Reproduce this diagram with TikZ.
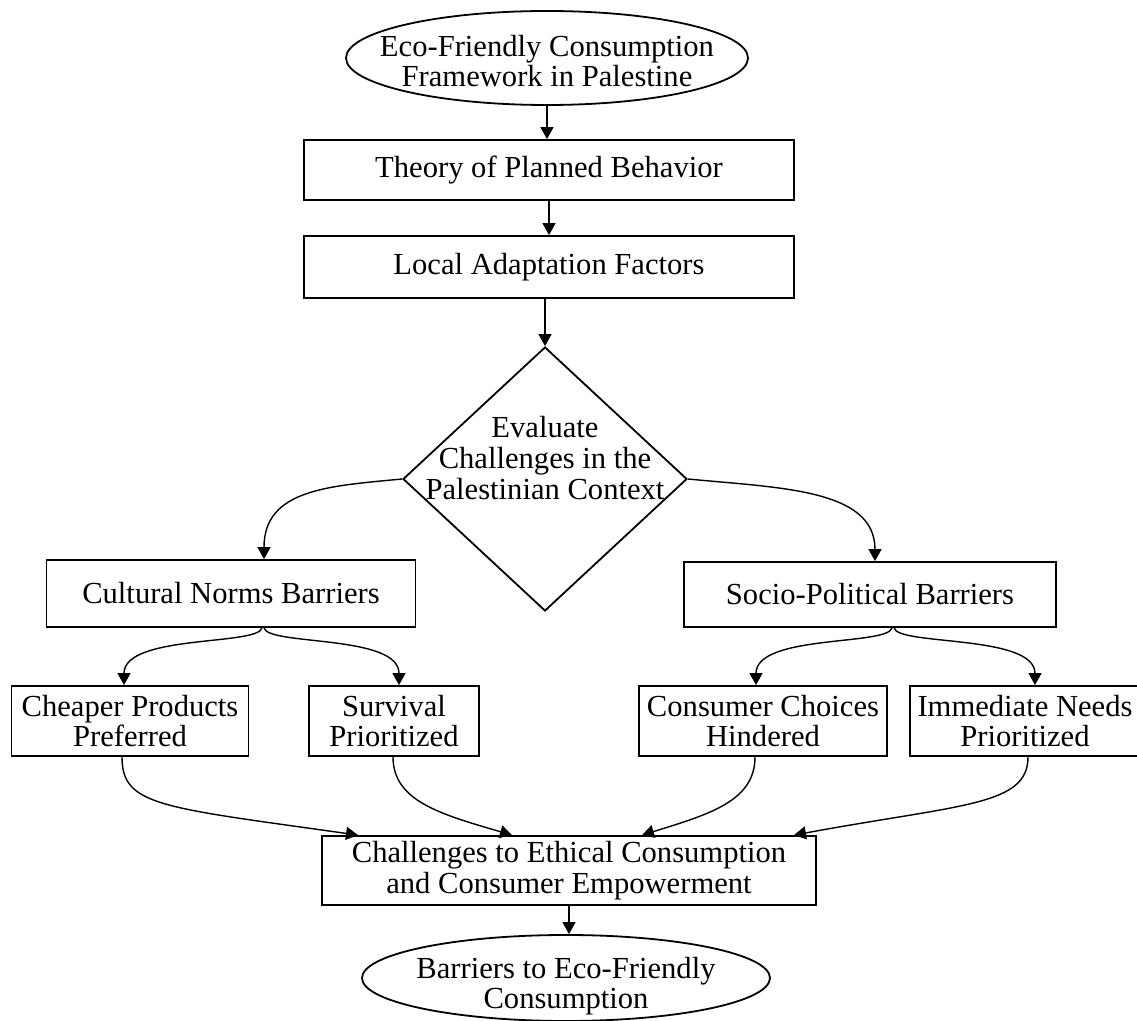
\documentclass[tikz,border=0pt]{standalone}
\usepackage{fontspec}
\setmainfont{Liberation Serif}
\usetikzlibrary{shapes.geometric,arrows.meta,calc}
\begin{document}
\begin{tikzpicture}[x=0.5pt,y=-0.5pt,
    caption/.style={align=center,font=\fontsize{15.3}{15.3}\selectfont},
    box/.style={draw,line width=0.9pt,inner sep=0pt,caption},
    oval/.style={draw,ellipse,line width=0.9pt,inner sep=0pt},
    decision/.style={draw,diamond,line width=0.9pt,inner sep=0pt,minimum width=142pt,minimum height=132pt},
    link/.style={line width=0.7pt,-{Triangle[length=6pt,width=6.5pt]}}]
  \useasboundingbox (0,0) rectangle (1137,1021);
  \node[oval,minimum width=201pt,minimum height=47pt,label={[caption,yshift=-1.5pt]center:Eco-Friendly Consumption\\Framework in Palestine}] (frame) at (547,58) {};
  \node[box,minimum width=245pt,minimum height=30pt] (tpb) at (549,170) {Theory of Planned Behavior};
  \node[box,minimum width=245pt,minimum height=31pt] (local) at (549,267) {Local Adaptation Factors};
  \node[decision,label={[caption,yshift=10.5pt]center:Evaluate\\Challenges in the\\Palestinian Context}] (eval) at (545,479) {};
  \node[box,minimum width=184.5pt,minimum height=33.5pt] (cult) at (231,593.5) {Cultural Norms Barriers};
  \node[box,minimum width=186pt,minimum height=32.5pt] (socio) at (870,594.5) {Socio-Political Barriers};
  \node[box,minimum width=118.5pt,minimum height=35pt] (cheap) at (130,721) {Cheaper Products\\Preferred};
  \node[box,minimum width=85pt,minimum height=35pt] (surv) at (394,721) {Survival\\Prioritized};
  \node[box,minimum width=124pt,minimum height=35pt] (cons) at (763,721) {Consumer Choices\\Hindered};
  \node[box,minimum width=115pt,minimum height=35pt] (imm) at (1025,721) {Immediate Needs\\Prioritized};
  \node[box,minimum width=247pt,minimum height=34.5pt] (chall) at (569,870.5) {Challenges to Ethical Consumption\\and Consumer Empowerment};
  \node[oval,minimum width=204pt,minimum height=43pt,label={[caption,yshift=-4pt]center:Barriers to Eco-Friendly\\Consumption}] (barr) at (566,978) {};
  \draw[link] (frame.south) -- (frame.south |- tpb.north);
  \draw[link] (tpb) -- (local);
  \draw[link] (local.south -| eval.north) -- (eval.north);
  \draw[link] (eval.west) .. controls +(-73,7) and +(0,-70) .. ($(cult.north)+(33,0)$);
  \draw[link] (eval.east) .. controls +(93,9) and +(0,-72) .. ($(socio.north)+(5,0)$);
  \draw[link] ($(cult.south)+(31,0)$) .. controls +(-4,18) and +(0,-51) .. ($(cheap.north)+(-6,0)$);
  \draw[link] ($(cult.south)+(33,0)$) .. controls +(4,18) and +(0,-51) .. ($(surv.north)+(5,0)$);
  \draw[link] ($(socio.south)+(22,0)$) .. controls +(-4,18) and +(0,-51) .. ($(cons.north)+(-7,0)$);
  \draw[link] ($(socio.south)+(24,0)$) .. controls +(4,18) and +(0,-51) .. ($(imm.north)+(10,0)$);
  \draw[link] ($(cheap.south)+(-8,0)$) .. controls +(0,49) and +(-198,-28) .. ($(chall.north)+(-211,0)$);
  \draw[link] ($(surv.south)+(-1,0)$) .. controls +(0,44) and +(-72,-21) .. ($(chall.north)+(-57,0)$);
  \draw[link] ($(cons.south)+(-8,0)$) .. controls +(0,44) and +(68,-21) .. ($(chall.north)+(73,0)$);
  \draw[link] ($(imm.south)+(3,0)$) .. controls +(0,49) and +(168,-31) .. ($(chall.north)+(225,0)$);
  \draw[link] (chall.south) -- (chall.south |- barr.north);
\end{tikzpicture}
\end{document}
